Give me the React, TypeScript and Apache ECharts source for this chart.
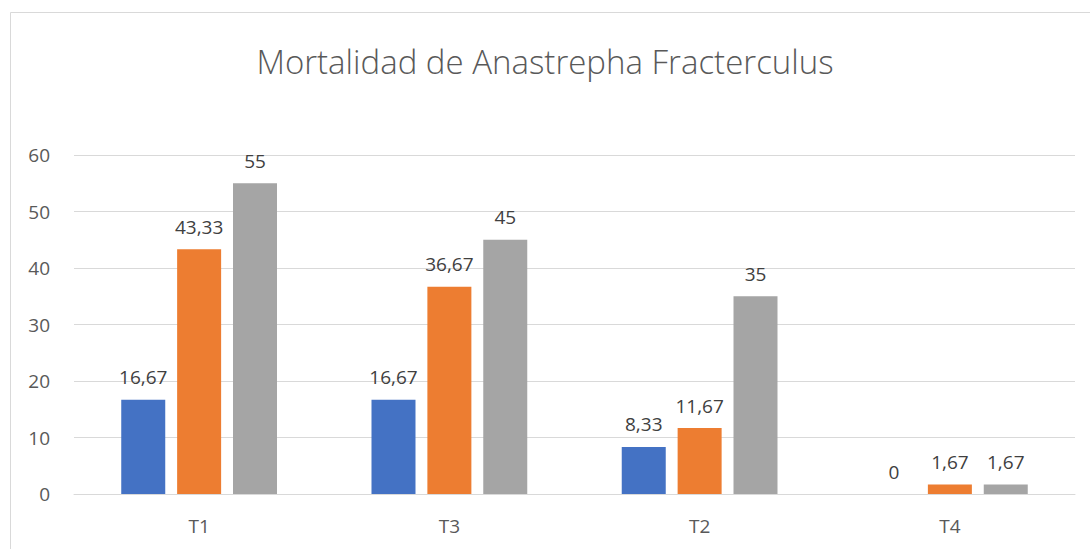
import React, { useEffect, useRef } from "react";
import * as echarts from "echarts";

const titleText = "Mortalidad de Anastrepha Fracterculus";
const categories = ["T1", "T3", "T2", "T4"];
const seriesA = [16.67, 16.67, 8.33, 0];
const seriesB = [43.33, 36.67, 11.67, 1.67];
const seriesC = [55, 45, 35, 1.67];
const colors = ["#4472C4", "#ED7D31", "#A5A5A5"];

const fmt = (v: number) => String(v).replace(".", ",");

export default function App() {
  const ref = useRef<HTMLDivElement>(null);
  useEffect(() => {
    if (!ref.current) return;
    const chart = echarts.init(ref.current, null, { renderer: "svg" });
    const font = "'Open Sans', 'Noto Sans', sans-serif";
    const mk = (data: number[], i: number) => ({
      type: "bar",
      data,
      barWidth: 44,
      barGap: "27%",
      itemStyle: { color: colors[i] },
      label: {
        show: true,
        position: "top",
        distance: 13,
        color: "#404040",
        fontSize: 19,
        fontFamily: font,
        formatter: (p: any) => fmt(p.value),
      },
    });
    chart.setOption({
      animation: false,
      backgroundColor: "#ffffff",
      title: {
        text: titleText,
        left: "center",
        top: 40,
        textStyle: { color: "#595959", fontSize: 33, fontWeight: 300, fontFamily: font },
      },
      graphic: [
        {
          type: "rect",
          shape: { x: 10.5, y: 12.5, width: 1200, height: 700 },
          style: { fill: "none", stroke: "#D9D9D9", lineWidth: 1 },
          silent: true,
        },
      ],
      grid: { left: 74, right: 15, top: 155, bottom: 55, containLabel: false },
      xAxis: {
        type: "category",
        data: categories,
        axisLine: { lineStyle: { color: "#D9D9D9", width: 1 } },
        axisTick: { show: false },
        axisLabel: { color: "#595959", fontSize: 19, fontFamily: font, margin: 22 },
      },
      yAxis: {
        type: "value",
        min: 0,
        max: 60,
        interval: 10,
        axisLine: { show: false },
        axisTick: { show: false },
        splitLine: { lineStyle: { color: "#D9D9D9", width: 1 } },
        axisLabel: { color: "#595959", fontSize: 19, fontFamily: font, margin: 24 },
      },
      series: [mk(seriesA, 0), mk(seriesB, 1), mk(seriesC, 2)],
    });
    return () => chart.dispose();
  }, []);
  return (
    <div
      ref={ref}
      style={{ position: "absolute", left: 0, top: 0, width: 1090, height: 549 }}
    />
  );
}
